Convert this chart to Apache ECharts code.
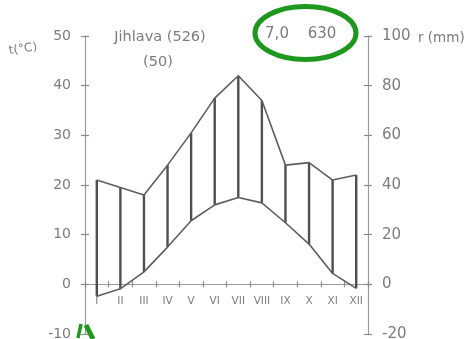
<!DOCTYPE html>
<html>
<head>
<meta charset="utf-8">
<title>Jihlava – klimadiagram</title>
<script src="https://cdn.jsdelivr.net/npm/echarts@6/dist/echarts.min.js"></script>
<style>
  html, body { margin: 0; padding: 0; background: #fff; }
  #chart { width: 469px; height: 339px; }
</style>
</head>
<body>
<div id="chart"></div>
<script>
// Months (Roman numerals) and monthly means for Jihlava
const months = ['I', 'II', 'III', 'IV', 'V', 'VI', 'VII', 'VIII', 'IX', 'X', 'XI', 'XII'];
const temperature = [-2.4, -0.9, 2.5, 7.5, 12.8, 16.0, 17.5, 16.4, 12.4, 8.1, 2.2, -0.8];   // °C
const precipitation = [42, 39, 36, 48, 61, 75, 84, 74, 48, 49, 42, 44];                     // mm

// Axis ranges: Walter–Lieth scaling, 10 °C on the left matches 20 mm on the right
const tempAxis = { min: -10, max: 50, step: 10 };
const rainAxis = { min: -20, max: 100, step: 20 };
const MM_PER_DEGREE = 2;

// Station header
const station = 'Jihlava (526)';
const years = '(50)';
const annualTemp = '7,0';
const annualRain = '630';

const FONT = '"DejaVu Sans", sans-serif';
const TEXT = '#7c7c7c';
const AXIS = '#9a9a9a';
const LINE = '#5e5e5e';

const chart = echarts.init(document.getElementById('chart'), null, { renderer: 'canvas' });

// Vertical hatching between the precipitation curve and the temperature curve
function hatchLine(params, api) {
  const a = api.coord([api.value(0), api.value(1)]);
  const b = api.coord([api.value(0), api.value(2)]);
  return {
    type: 'line',
    shape: { x1: a[0], y1: a[1], x2: b[0], y2: b[1] },
    style: { stroke: '#4f4f4f', lineWidth: 2.4 }
  };
}

// Month names hang just under the 0 °C line
function monthLabel(params, api) {
  const p = api.coord([api.value(0), 0]);
  return {
    type: 'text',
    x: p[0],
    y: p[1] + 11,
    style: {
      text: months[params.dataIndex],
      fill: TEXT,
      font: '10.5px ' + FONT,
      textAlign: 'center',
      textVerticalAlign: 'top'
    }
  };
}

function valueAxis(range, side, withLabels, size, margin) {
  return {
    type: 'value',
    position: side,
    min: range.min,
    max: range.max,
    interval: range.step,
    splitLine: { show: false },
    axisLine: { show: withLabels, lineStyle: { color: AXIS, width: 1.2 } },
    axisTick: { show: true, inside: !withLabels, length: 4, lineStyle: { color: '#8a8a8a', width: 1.2 } },
    axisLabel: {
      show: withLabels, color: TEXT, fontSize: size, fontFamily: FONT, margin: margin
    }
  };
}

function categoryAxis(main) {
  return {
    type: 'category',
    position: 'bottom',
    data: months,
    boundaryGap: true,
    axisLine: { show: main, onZero: true, onZeroAxisIndex: 0, lineStyle: { color: AXIS, width: 1.2 } },
    axisTick: { show: true, inside: !main, length: 3, alignWithLabel: false, lineStyle: { color: '#8a8a8a', width: 1.2 } },
    axisLabel: { show: false },
    splitLine: { show: false }
  };
}

const option = {
  backgroundColor: '#ffffff',
  animation: false,
  grid: { left: 85, right: 101, top: 36, bottom: 5, containLabel: false, outerBoundsMode: 'none' },
  xAxis: [categoryAxis(true), categoryAxis(false)],
  yAxis: [
    valueAxis(tempAxis, 'left', true, 14, 14),
    valueAxis(rainAxis, 'right', true, 15, 14),
    valueAxis(tempAxis, 'left', false, 14, 14),
    valueAxis(rainAxis, 'right', false, 15, 14)
  ],
  series: [
    {
      name: 'hatch',
      type: 'custom',
      xAxisIndex: 0,
      yAxisIndex: 0,
      renderItem: hatchLine,
      encode: { x: 0, y: [1, 2] },
      data: months.map((m, i) => [i, precipitation[i] / MM_PER_DEGREE, temperature[i]]),
      z: 3
    },
    {
      name: 'r (mm)',
      type: 'line',
      xAxisIndex: 0,
      yAxisIndex: 1,
      data: precipitation,
      symbol: 'none',
      lineStyle: { color: LINE, width: 1.6 },
      z: 4
    },
    {
      name: 't (°C)',
      type: 'line',
      xAxisIndex: 0,
      yAxisIndex: 0,
      data: temperature,
      symbol: 'none',
      lineStyle: { color: LINE, width: 1.6 },
      z: 4
    },
    {
      name: 'months',
      type: 'custom',
      xAxisIndex: 0,
      yAxisIndex: 0,
      renderItem: monthLabel,
      encode: { x: 0 },
      data: months.map((m, i) => [i]),
      clip: false,
      z: 2
    }
  ],
  graphic: [
    {
      type: 'text', x: 23, y: 49, rotation: 0.14,
      style: { text: 't(°C)', fill: TEXT, font: '12px ' + FONT, textAlign: 'center', textVerticalAlign: 'middle' }
    },
    {
      type: 'text', x: 418, y: 38,
      style: { text: 'r (mm)', fill: TEXT, font: '13.5px ' + FONT, textAlign: 'left', textVerticalAlign: 'middle' }
    },
    {
      type: 'text', x: 160, y: 37,
      style: { text: station, fill: TEXT, font: '14.5px ' + FONT, textAlign: 'center', textVerticalAlign: 'middle' }
    },
    {
      type: 'text', x: 158, y: 62,
      style: { text: years, fill: TEXT, font: '14.5px ' + FONT, textAlign: 'center', textVerticalAlign: 'middle' }
    },
    {
      type: 'text', x: 277, y: 34,
      style: { text: annualTemp, fill: TEXT, font: '15px ' + FONT, textAlign: 'center', textVerticalAlign: 'middle' }
    },
    {
      type: 'text', x: 322, y: 34,
      style: { text: annualRain, fill: TEXT, font: '15px ' + FONT, textAlign: 'center', textVerticalAlign: 'middle' }
    },
    // green hand-drawn highlight round the annual figures
    {
      type: 'ellipse',
      shape: { cx: 305.5, cy: 33, rx: 50.5, ry: 26.5 },
      style: { fill: 'none', stroke: '#1e971e', lineWidth: 5 },
      z: 10
    },
    // green pen stroke at the lower left corner
    {
      type: 'polyline',
      shape: { points: [[78, 338], [81, 324]] },
      style: { stroke: '#1e971e', lineWidth: 3.5, fill: 'none' },
      z: 10
    },
    {
      type: 'polyline',
      shape: { points: [[86, 325], [93, 339]] },
      style: { stroke: '#1e971e', lineWidth: 5, fill: 'none' },
      z: 10
    }
  ]
};

chart.setOption(option);
</script>
</body>
</html>
